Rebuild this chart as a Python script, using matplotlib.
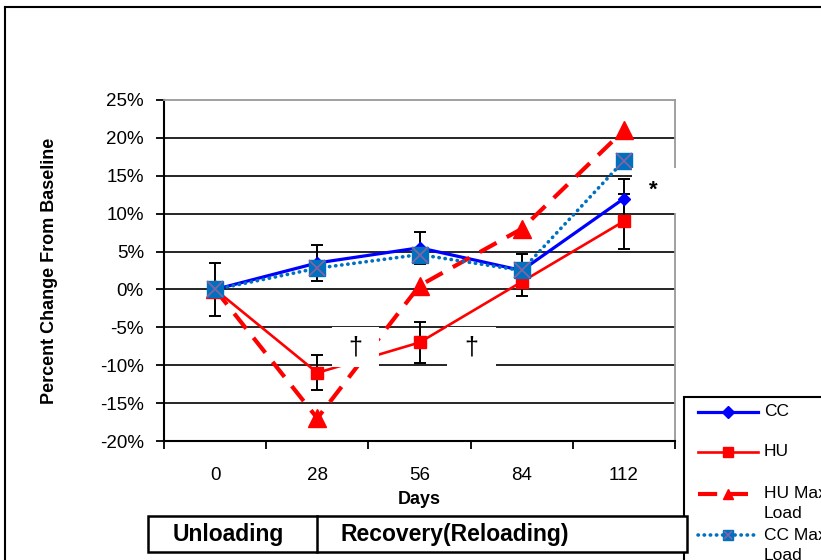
import numpy as np
import matplotlib
matplotlib.use("Agg")
import matplotlib.pyplot as plt
from matplotlib.patches import Rectangle
from matplotlib.lines import Line2D

plt.rcParams['font.family'] = ['Liberation Sans', 'DejaVu Sans']

days = ['0', '28', '56', '84', '112']
cc = [0.0, 3.5, 5.5, 2.5, 12.0]
cc_err = [3.5, 2.4, 2.1, 2.2, 2.6]
hu = [0.0, -11.0, -7.0, 1.0, 9.0]
hu_err = [0.0, 2.3, 2.7, 1.8, 3.6]
hu_max = [0.0, -17.0, 0.5, 8.0, 21.0]
cc_max = [0.0, 2.8, 4.6, 2.5, 17.0]
yticks = [-20, -15, -10, -5, 0, 5, 10, 15, 20, 25]

W, H = 821, 560
def px(xp, yp):
    # pixel position -> figure fraction
    return xp / W, 1 - yp / H

x = np.arange(len(days))

fig = plt.figure(figsize=(8.21, 5.6), dpi=100)
ax = fig.add_axes([164/W, 1-441/H, 511/W, 341/H])

# gridlines
for v in yticks[1:-1]:
    ax.axhline(v, color='black', linewidth=1.2, zorder=1)

ax.errorbar(x, cc, yerr=cc_err, fmt='none', ecolor='black', elinewidth=1.4,
            capsize=4, capthick=1.4, zorder=2)
ax.errorbar(x, hu, yerr=hu_err, fmt='none', ecolor='black', elinewidth=1.4,
            capsize=4, capthick=1.4, zorder=2)

cc_style = dict(color='#0000FF', linewidth=2.3, marker='D')
hu_style = dict(color='#FF0000', linewidth=1.9, marker='s')
hm_style = dict(color='#FF0000', linewidth=3, linestyle=(0, (4.6, 2.8)), marker='^')
cm_style = dict(color='#0070C0', linewidth=2.6, linestyle=(0, (0.1, 1.6)),
                dash_capstyle='round', marker='s')
cx_style = dict(linestyle='none', marker='x', markeredgecolor='#8064A2')

ax.plot(x, cc, markersize=6, zorder=3, **cc_style)
ax.plot(x, hu, markersize=9, zorder=4, **hu_style)
ax.plot(x, hu_max, markersize=13, zorder=5, **hm_style)
ax.plot(x, cc_max, markersize=12, zorder=6, **cm_style)
ax.plot(x, cc_max, markersize=11, markeredgewidth=1.3, zorder=7, **cx_style)

ax.set_xlim(-0.5, 4.5)
ax.set_ylim(-20, 25)
ax.set_yticks(yticks)
ax.set_yticklabels([f'{v}%' for v in yticks], fontsize=13.5)
ax.set_xticks(x)
ax.set_xticklabels(days, fontsize=13.5)
ax.set_xticks(np.arange(-0.5, 5, 1), minor=True)
ax.tick_params(axis='x', which='major', length=0, pad=19)
ax.tick_params(axis='x', which='minor', length=6, width=1.3, direction='out')
ax.tick_params(axis='y', length=6, width=1.3, direction='out', pad=8.5)

for s in ['top', 'right']:
    ax.spines[s].set_color('#999999')
    ax.spines[s].set_linewidth(1.3)
for s in ['left', 'bottom']:
    ax.spines[s].set_color('black')
    ax.spines[s].set_linewidth(1.5)

ax.set_xlabel('Days', fontsize=13, fontweight='bold', labelpad=5)
ax.set_ylabel('Percent Change From Baseline', fontsize=13, fontweight='bold', labelpad=30)

# white annotation boxes
for bx in [(0.329, 0.421), (0.554, 0.650)]:
    ax.add_patch(Rectangle((bx[0], 0.217), bx[1]-bx[0], 0.117, transform=ax.transAxes,
                           facecolor='white', edgecolor='none', zorder=10, clip_on=False))
    ax.text((bx[0]+bx[1])/2, 0.275, '\u2020', transform=ax.transAxes, fontsize=18,
            ha='center', va='center', zorder=11)
ax.add_patch(Rectangle((0.916, 0.669), 0.14, 0.131, transform=ax.transAxes,
                       facecolor='white', edgecolor='none', zorder=10, clip_on=False))
ax.text(0.958, 0.735, '*', transform=ax.transAxes, fontsize=16, fontweight='bold',
        ha='center', va='center', zorder=11)

# legend box (runs off the right/bottom edge, as in the original)
fig.add_artist(Rectangle(px(684, 580), 200/W, 183/H, transform=fig.transFigure,
                         facecolor='white', edgecolor='black', linewidth=1.5))
legend_rows = [
    ('CC', 412, cc_style, 6, False),
    ('HU', 452, hu_style, 7, False),
    ('HU Max\nLoad', 494, hm_style, 7, False),
    ('CC Max\nLoad', 535, cm_style, 7, True),
]
for label, yrow, style, ms, cross in legend_rows:
    (x0, y0), (x1, _) = px(698, yrow), px(758, yrow)
    fig.add_artist(Line2D([x0, x1], [y0, y0], transform=fig.transFigure,
                          marker='None', **{k: v for k, v in style.items() if k != 'marker'}))
    fig.add_artist(Line2D([(x0+x1)/2], [y0], transform=fig.transFigure, linestyle='none',
                          marker=style['marker'], markersize=ms, color=style['color']))
    if cross:
        fig.add_artist(Line2D([(x0+x1)/2], [y0], transform=fig.transFigure, markersize=6,
                              markeredgewidth=1.2, **cx_style))
    fig.text(764/W, y0, label.split('\n')[0], fontsize=12.5, ha='left', va='center')
    if '\n' in label:
        fig.text(764/W, y0 - 20/H, label.split('\n')[1], fontsize=12.5, ha='left', va='center')

# phase table beneath the chart
t_left, t_div, t_right = 148/W, 317/W, 687/W
t_bot, t_top = 1-552/H, 1-516/H
fig.add_artist(Rectangle((t_left, t_bot), t_right-t_left, t_top-t_bot, transform=fig.transFigure,
                         facecolor='white', edgecolor='black', linewidth=1.8))
fig.add_artist(Line2D([t_div, t_div], [t_bot, t_top], transform=fig.transFigure,
                      color='black', linewidth=1.8))
fig.text(228/W, (t_bot+t_top)/2, 'Unloading', fontsize=16.5, fontweight='bold',
         ha='center', va='center')
fig.text(455/W, (t_bot+t_top)/2, 'Recovery(Reloading)', fontsize=16.5, fontweight='bold',
         ha='center', va='center')

# outer border
fig.add_artist(Line2D([5/W, 5/W], [0, 1-7/H], transform=fig.transFigure,
                      color='black', linewidth=1.5))
fig.add_artist(Line2D([5/W, 1], [1-7/H, 1-7/H], transform=fig.transFigure,
                      color='black', linewidth=1.5))

fig.savefig('out.png', dpi=100)
